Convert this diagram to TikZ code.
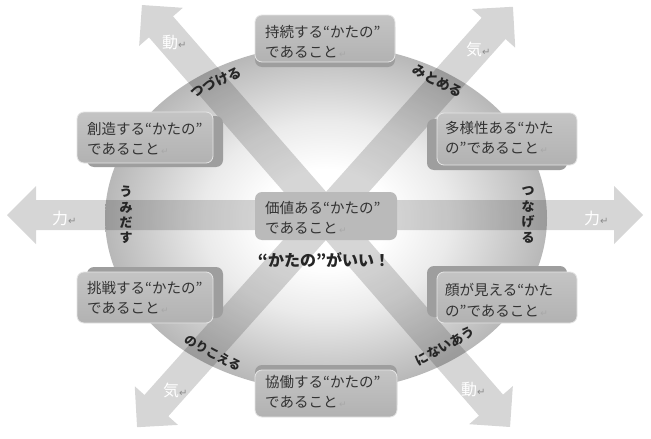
\documentclass[tikz,border=0pt]{standalone}
\usepackage{fontspec}
\setmainfont{Noto Sans CJK JP}
\newfontfamily\dvfont{DejaVu Sans}
\definecolor{facetop}{HTML}{C4C4C4}
\definecolor{facebot}{HTML}{B2B2B2}
\definecolor{sidecol}{HTML}{9E9E9E}
\definecolor{txtcol}{HTML}{333333}
\definecolor{retcol}{HTML}{A8A8A8}
\newcommand\retm{{\dvfont\color{retcol}\fontsize{9}{9}\selectfont\,↵}}
\newcommand\retw{{\dvfont\color{black!45}\fontsize{10}{10}\selectfont↵}}
\newcommand\mydblarrow[5]{%
  \fill[shift={(#1,#2)}, rotate=#3] (-#4,0) -- (-#4+29,29) -- (-#4+29,#5) -- (#4-29,#5) -- (#4-29,29) -- (#4,0) -- (#4-29,-29) -- (#4-29,-#5) -- (-#4+29,-#5) -- (-#4+29,-29) -- cycle;}
\pgfdeclareradialshading{ringshade}{\pgfpoint{0bp}{0bp}}{color(0bp)=(white); color(7bp)=(white); color(14bp)=(black!8); color(20bp)=(black!19); color(25bp)=(black!28); color(50bp)=(black!28)}
\begin{document}
\begin{tikzpicture}[x=1pt,y=1pt,
  face/.style={rounded corners=7pt, top color=facetop, bottom color=facebot, draw=black!10, line width=0.8pt, inner sep=0pt},
  flatface/.style={rounded corners=7pt, fill=facebot!90!white, inner sep=0pt},
  side/.style={rounded corners=7pt, fill=sidecol},
  boxtxt/.style={inner sep=0pt, align=left, text=txtcol, font=\fontsize{14.5}{20.5}\selectfont},
  ringlbl/.style={inner sep=0pt, text=black!85, font=\bfseries\fontsize{13.5}{13.5}\selectfont},
  vlbl/.style={inner sep=0pt, align=center, text=black!85, font=\bfseries\fontsize{13}{15.4}\selectfont},
  arrlbl/.style={inner sep=0pt, text=white, font=\fontsize{16}{16}\selectfont},
  centlbl/.style={inner sep=0pt, text=black!85, font=\bfseries\fontsize{16}{16}\selectfont}]

\useasboundingbox (0,0) rectangle (651,-439);
\fill[white] (0,0) rectangle (651,-439);

% ring ellipse
\shade[shading=ringshade] (326,-218) ellipse [x radius=221, y radius=173];

% four double arrows
\begin{scope}[transparency group, opacity=0.16]
  \mydblarrow{325}{-215}{0}{318}{15}
  \mydblarrow{326}{-216}{-48.9}{280}{16}
  \mydblarrow{325}{-217}{48.2}{282}{16}
\end{scope}

% arrow labels
\node[arrlbl, anchor=west] (lf) at (52,-218) {力\retw};
\node[arrlbl, anchor=west] (rf) at (584,-218) {力\retw};
\node[arrlbl, anchor=west] (ul) at (162,-43) {動\retw};
\node[arrlbl, anchor=west] (ur) at (466,-49) {気\retw};
\node[arrlbl, anchor=west] (ll) at (163,-390) {気\retw};
\node[arrlbl, anchor=west] (lr) at (461,-390) {動\retw};

% ring labels
\node[ringlbl, rotate=25] (tl) at (216,-82) {つづける};
\node[ringlbl, rotate=-28] (tr) at (438,-81) {みとめる};
\node[ringlbl, font=\bfseries\fontsize{12.5}{12.5}\selectfont, rotate=-28] (bl) at (213,-353) {のりこえる};
\node[ringlbl, font=\bfseries\fontsize{13}{13}\selectfont, rotate=29] (br) at (445,-346) {にないあう};
\node[vlbl] (lv) at (126,-215) {う\\み\\だ\\す};
\node[vlbl] (rv) at (528,-215) {つ\\な\\げ\\る};

% top box
\fill[side] (255,-20) rectangle (395,-67);
\node[face, minimum width=140, minimum height=47] (btop) at (325,-38.5) {};
\node[boxtxt, anchor=west] (ttop) at (265,-42) {持続する“かたの”\\であること\retm};

% upper left box
\fill[side] (87,-116) rectangle (223,-167);
\node[face, minimum width=136, minimum height=51] (bul) at (145,-137.5) {};
\node[boxtxt, anchor=west] (tul) at (87,-139) {創造する“かたの”\\であること\retm};

% upper right box
\fill[side] (427,-119) rectangle (567,-170);
\node[face, minimum width=140, minimum height=52] (bur) at (507,-139) {};
\node[boxtxt, anchor=west] (tur) at (445,-138) {多様性ある“かた\\の”であること\retm};

% centre box
\node[flatface, minimum width=142, minimum height=48] (bc) at (326,-216) {};
\node[boxtxt, anchor=west] (tc) at (265,-218) {価値ある“かたの”\\であること\retm};
\node[centlbl] (slogan) at (324,-260) {“かたの”がいい！};

% lower left box
\fill[side] (87,-267) rectangle (223,-318);
\node[face, minimum width=136, minimum height=51] (bll) at (145,-297.5) {};
\node[boxtxt, anchor=west] (tll) at (87,-298) {挑戦する“かたの”\\であること\retm};

% lower right box
\fill[side] (427,-266) rectangle (567,-317);
\node[face, minimum width=140, minimum height=51] (blr) at (507,-297.5) {};
\node[boxtxt, anchor=west] (tlr) at (445,-300) {顔が見える“かた\\の”であること\retm};

% bottom box
\fill[side] (255,-365) rectangle (397,-412);
\node[face, minimum width=142, minimum height=47] (bbot) at (326,-393.5) {};
\node[boxtxt, anchor=west] (tbot) at (265,-392) {協働する“かたの”\\であること\retm};
\end{tikzpicture}
\end{document}
